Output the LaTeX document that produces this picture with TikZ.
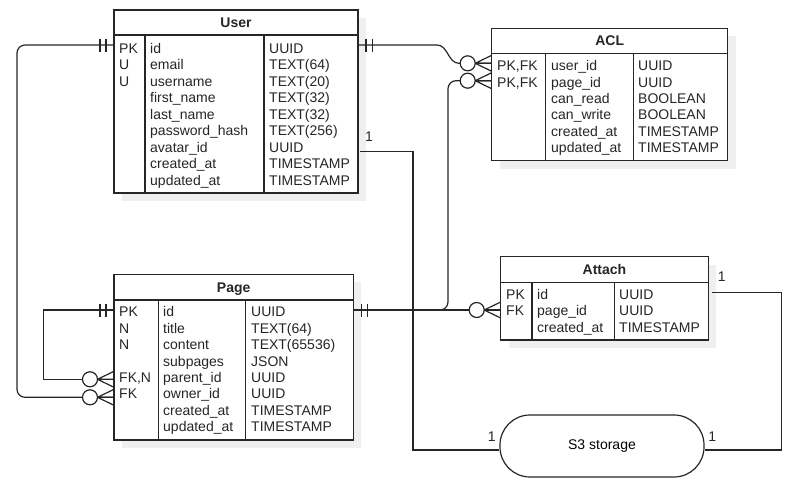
\documentclass[tikz,border=0pt]{standalone}
\usepackage{fontspec}
\setmainfont{Liberation Sans}
\definecolor{linec}{HTML}{262626}
\definecolor{shadowc}{HTML}{EFEFEF}
\tikzset{
  tabbox/.style={draw=linec, fill=white, inner sep=0pt, outer sep=0pt},
  cell/.style={anchor=base west, inner sep=0pt, text=linec},
  ttl/.style={anchor=base, inner sep=0pt, font=\fontsize{14}{16}\selectfont\bfseries, text=linec},
  lbl/.style={inner sep=0pt, text=linec},
  conn/.style={draw=linec, line width=1.2pt},
  zmany/.pic={
    \draw[linec, line width=1.2pt, fill=white] (-24,0) circle (7.5);
    \draw[linec, line width=1.2pt] (-16.5,0) -- (0,-8) (-16.5,0) -- (0,0) (-16.5,0) -- (0,8);
  },
  barsleft/.pic={
    \draw[linec, line width=1.2pt] (-8,-6.5) -- (-8,6.5) (-14,-6.5) -- (-14,6.5);
  },
  barsright/.pic={
    \draw[linec, line width=1.2pt] (8,-6.5) -- (8,6.5) (14.5,-6.5) -- (14.5,6.5);
  }
}
\newcommand\ertab[9]{%
  \fill[shadowc] ({#2+8},{#3+8}) rectangle ({#4+8},{#6+8});
  \node[tabbox, line width=1.2pt, minimum width={#4pt-#2pt}, minimum height={#6pt-#3pt}, anchor=north west] (#1) at (#2,#3) {};
  \node[ttl] at ({(#2+#4)/2},{(#3+#5)/2+5}) {#9};
  \draw[linec, line width=1.2pt] (#2,#5) -- (#4,#5) (#7,#5) -- (#7,#6) (#8,#5) -- (#8,#6);
}
\newcommand\errow[7]{%
  \node[cell] at (#1,#4) {#5};
  \node[cell] at (#2,#4) {#6};
  \node[cell] at (#3,#4) {#7};
}
\begin{document}
\begin{tikzpicture}[x=1pt, y=-1pt, every node/.style={font=\fontsize{14}{16}\selectfont}]
\useasboundingbox (0,0) rectangle (801,485);

% ---------- tables ----------
\ertab{user}{114}{10}{358}{35}{193}{145}{264}{User}
\errow{119}{150}{269}{53.3}{PK}{id}{UUID}
\errow{119}{150}{269}{69.8}{U}{email}{TEXT(64)}
\errow{119}{150}{269}{86.2}{U}{username}{TEXT(20)}
\errow{119}{150}{269}{102.7}{}{first\_name}{TEXT(32)}
\errow{119}{150}{269}{119.1}{}{last\_name}{TEXT(32)}
\errow{119}{150}{269}{135.6}{}{password\_hash}{TEXT(256)}
\errow{119}{150}{269}{152.1}{}{avatar\_id}{UUID}
\errow{119}{150}{269}{168.5}{}{created\_at}{TIMESTAMP}
\errow{119}{150}{269}{185.0}{}{updated\_at}{TIMESTAMP}

\ertab{acl}{491.7}{28.3}{727.7}{53.3}{160.7}{545.7}{633.3}{ACL}
\errow{497}{551}{638}{70.7}{PK,FK}{user\_id}{UUID}
\errow{497}{551}{638}{87.1}{PK,FK}{page\_id}{UUID}
\errow{497}{551}{638}{103.5}{}{can\_read}{BOOLEAN}
\errow{497}{551}{638}{119.9}{}{can\_write}{BOOLEAN}
\errow{497}{551}{638}{136.3}{}{created\_at}{TIMESTAMP}
\errow{497}{551}{638}{152.7}{}{updated\_at}{TIMESTAMP}

\ertab{page}{114}{274.3}{353.3}{300}{440}{158.3}{245.7}{Page}
\errow{119}{163}{251}{316.7}{PK}{id}{UUID}
\errow{119}{163}{251}{333.1}{N}{title}{TEXT(64)}
\errow{119}{163}{251}{349.6}{N}{content}{TEXT(65536)}
\errow{119}{163}{251}{366.0}{}{subpages}{JSON}
\errow{119}{163}{251}{382.4}{FK,N}{parent\_id}{UUID}
\errow{119}{163}{251}{398.9}{FK}{owner\_id}{UUID}
\errow{119}{163}{251}{415.3}{}{created\_at}{TIMESTAMP}
\errow{119}{163}{251}{431.7}{}{updated\_at}{TIMESTAMP}

\ertab{attach}{500.7}{256.7}{708.3}{282.3}{340}{532}{614.3}{Attach}
\errow{506}{537}{619}{299}{PK}{id}{UUID}
\errow{506}{537}{619}{315.7}{FK}{page\_id}{UUID}
\errow{506}{537}{619}{332.3}{}{created\_at}{TIMESTAMP}

\node[draw=linec, line width=1.2pt, fill=white, rounded corners=30, minimum width=204pt, minimum height=62pt, inner sep=0pt] (s3) at (602,446) {S3 storage};

% ---------- row coordinates ----------
\coordinate (uPK) at (0,45);
\coordinate (uAv) at (0,151.7);
\coordinate (aUser) at (0,63.3);
\coordinate (aPage) at (0,80.7);
\coordinate (pPK) at (0,310);
\coordinate (pPar) at (0,379.3);
\coordinate (pOwn) at (0,397.3);
\coordinate (atR) at (0,292.3);
\coordinate (sY) at (0,450);
\coordinate (xL1) at (17,0);
\coordinate (xL2) at (43.3,0);
\coordinate (xM1) at (413,0);
\coordinate (xM2) at (448,0);
\coordinate (xR) at (781.7,0);

% ---------- connectors ----------
% User.id -> Page.owner_id
\draw[conn, rounded corners=8] (user.west |- uPK) -- (xL1 |- uPK) -- (xL1 |- pOwn) -- (page.west |- pOwn);
% Page.id -> Page.parent_id
\draw[conn] (page.west |- pPK) -- (xL2 |- pPK) -- (xL2 |- pPar) -- (page.west |- pPar);
% User.id -> ACL.user_id
\draw[conn] (user.east |- uPK) -- (437,45) .. controls (448,45) and (448,63.3) .. (459,63.3) -- (acl.west |- aUser);
% Page.id -> Attach.page_id
\draw[conn] (page.east |- pPK) -- (attach.west |- pPK);
% Page.id -> ACL.page_id
\draw[conn, rounded corners=8] (430,310) -- (xM2 |- pPK) -- (xM2 |- aPage) -- (acl.west |- aPage);
% User.avatar_id -> S3
\draw[conn] ([xshift=2pt]user.east |- uAv) -- (xM1 |- uAv) -- (xM1 |- sY) -- (s3.west |- sY);
% Attach -> S3
\draw[conn] ([xshift=3.4pt]attach.east |- atR) -- (xR |- atR) -- (xR |- sY) -- (s3.east |- sY);

% ---------- end markers ----------
\pic at (user.west |- uPK) {barsleft};
\pic at (user.east |- uPK) {barsright};
\pic at (page.west |- pPK) {barsleft};
\pic at (page.east |- pPK) {barsright};
\pic at (page.west |- pPar) {zmany};
\pic at (page.west |- pOwn) {zmany};
\pic at (acl.west |- aUser) {zmany};
\pic at (acl.west |- aPage) {zmany};
\pic at (attach.west |- pPK) {zmany};

% ---------- labels ----------
\node[lbl] (l1) at (369,137) {1};
\node[lbl] (l2) at (721.7,277) {1};
\node[lbl] (l3) at (491.7,436.7) {1};
\node[lbl] (l4) at (712.3,436.7) {1};
\end{tikzpicture}
\end{document}
